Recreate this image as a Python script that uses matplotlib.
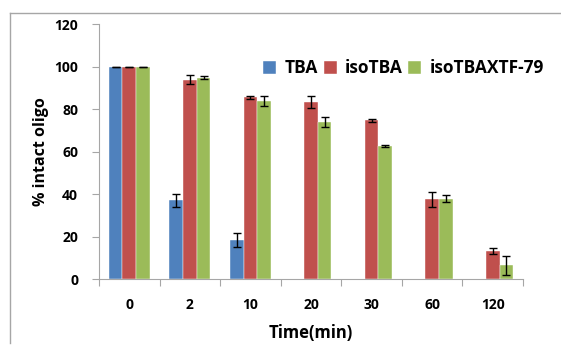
import matplotlib
matplotlib.use("Agg")
import matplotlib.pyplot as plt
import numpy as np
from matplotlib.lines import Line2D

# data
times = ["0", "2", "10", "20", "30", "60", "120"]
series = ["TBA", "isoTBA", "isoTBAXTF-79"]
tba = [100, 37.0, 18.4, 0, 0, 0, 0]
tba_err = [0.0, 2.9, 3.1, 0, 0, 0, 0]
iso = [100, 93.9, 85.6, 83.3, 74.7, 37.6, 13.0]
iso_err = [0.0, 2.1, 0.6, 2.9, 0.5, 3.5, 1.4]
xtf = [100, 94.8, 83.8, 73.9, 62.7, 37.9, 6.4]
xtf_err = [0.0, 0.7, 2.2, 2.4, 0.5, 1.5, 4.4]
colors = ["#4F81BD", "#C0504D", "#9BBB59"]

plt.rcParams['font.family'] = ['Open Sans', 'DejaVu Sans']
plt.rcParams['font.weight'] = 'bold'

fig = plt.figure(figsize=(5.61, 3.45), dpi=100)
ax = fig.add_axes([0.1765, 0.1913, 0.9323 - 0.1765, 0.9296 - 0.1913])

# outer chart frame
fig.add_artist(Line2D([10 / 561, 1.0], [1 - 13 / 345, 1 - 13 / 345],
                      transform=fig.transFigure, color="#a6a6a6", lw=1))
fig.add_artist(Line2D([10 / 561, 10 / 561], [1 - 13 / 345, 0.005],
                      transform=fig.transFigure, color="#a6a6a6", lw=1))

x = np.arange(len(times))
w = 0.225
vals = [tba, iso, xtf]
errs = [tba_err, iso_err, xtf_err]
for i in range(3):
    pos = x + (i - 1) * w
    ax.bar(pos, vals[i], w, color=colors[i], edgecolor="white", linewidth=0.3,
           label=series[i], zorder=2)
    e = np.array(errs[i])
    v = np.array(vals[i])
    mask = v > 0
    ax.errorbar(pos[mask], v[mask], yerr=e[mask], fmt="none", ecolor="black",
                elinewidth=1, capsize=3, capthick=1, zorder=3)

ax.set_xlim(-0.5, len(times) - 0.5)
ax.set_ylim(0, 120)
ax.set_yticks(range(0, 121, 20))
ax.set_xticks(np.arange(-0.5, len(times), 1.0))
ax.set_xticklabels([])
ax.set_xticks(x, minor=True)
ax.set_xticklabels(times, minor=True)
ax.tick_params(axis="x", which="minor", length=0, pad=14, labelsize=10)
ax.tick_params(axis="x", which="major", length=5, color="#a6a6a6", direction="out")
ax.tick_params(axis="y", length=5, color="#a6a6a6", labelsize=10, pad=10)

for s in ["top", "right"]:
    ax.spines[s].set_visible(False)
for s in ["left", "bottom"]:
    ax.spines[s].set_color("#a6a6a6")

ax.set_ylabel("% intact oligo", fontsize=11.5, fontweight="bold", labelpad=4)
ax.set_xlabel("Time(min)", fontsize=12, fontweight="bold", labelpad=8)

ax.legend(loc="upper right", bbox_to_anchor=(1.065, 0.89), ncol=3, frameon=False,
          fontsize=12.5, handlelength=0.75, handleheight=0.75, handletextpad=0.45,
          columnspacing=0.35, borderaxespad=0)

fig.savefig("out.png", dpi=100)
